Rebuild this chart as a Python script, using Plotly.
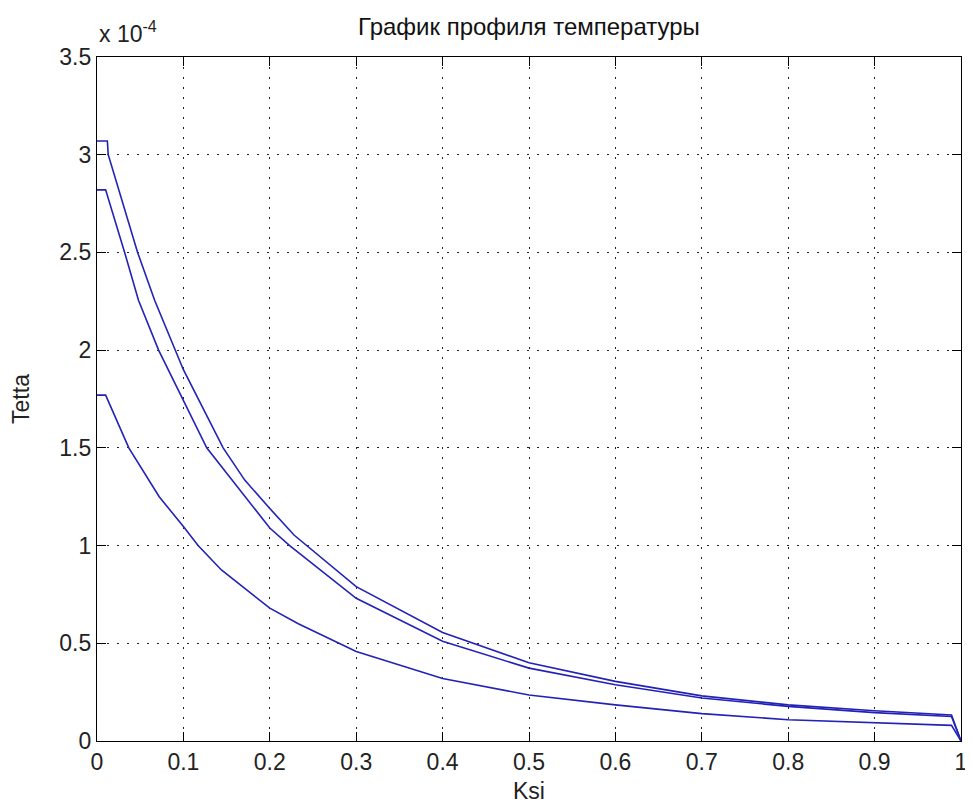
import plotly.graph_objects as go

# Values of Tetta are in units of 1e-4 (axis shows "x 10^-4")
ksi_1 = [0, 0.012, 0.013, 0.047, 0.0667, 0.0904, 0.1, 0.146, 0.171, 0.2, 0.228, 0.3, 0.4, 0.5, 0.6, 0.7, 0.8, 0.9, 0.957, 0.989, 1.0]
tetta_1 = [3.07, 3.07, 3.0, 2.5, 2.255, 2.0, 1.9, 1.5, 1.335, 1.19, 1.054, 0.79, 0.555, 0.40, 0.305, 0.231, 0.185, 0.155, 0.14, 0.133, 0.0]

ksi_2 = [0, 0.010, 0.032, 0.048, 0.0713, 0.1, 0.127, 0.2, 0.223, 0.3, 0.4, 0.5, 0.6, 0.7, 0.8, 0.9, 0.957, 0.989, 1.0]
tetta_2 = [2.82, 2.82, 2.5, 2.255, 2.0, 1.74, 1.5, 1.09, 1.0, 0.73, 0.51, 0.373, 0.288, 0.22, 0.177, 0.145, 0.13, 0.125, 0.0]

ksi_3 = [0, 0.010, 0.0368, 0.048, 0.072, 0.1, 0.117, 0.144, 0.186, 0.2, 0.233, 0.3, 0.4, 0.5, 0.6, 0.7, 0.8, 0.9, 0.957, 0.989, 1.0]
tetta_3 = [1.77, 1.77, 1.5, 1.42, 1.25, 1.097, 1.0, 0.875, 0.731, 0.68, 0.60, 0.458, 0.32, 0.235, 0.185, 0.14, 0.109, 0.095, 0.085, 0.08, 0.0]

x_ticks = [0, 0.1, 0.2, 0.3, 0.4, 0.5, 0.6, 0.7, 0.8, 0.9, 1]
x_tick_labels = ["0", "0.1", "0.2", "0.3", "0.4", "0.5", "0.6", "0.7", "0.8", "0.9", "1"]
y_ticks = [0, 0.5, 1, 1.5, 2, 2.5, 3, 3.5]
y_tick_labels = ["0", "0.5", "1", "1.5", "2", "2.5", "3", "3.5"]

title_text = "График профиля температуры"
x_label = "Ksi"
y_label = "Tetta"

FONT = "Liberation Sans, Arial, sans-serif"
TEXT_COLOR = "#222222"
LINE_COLOR = "#2222b8"

fig = go.Figure()
for xs, ys in [(ksi_1, tetta_1), (ksi_2, tetta_2), (ksi_3, tetta_3)]:
    fig.add_trace(go.Scatter(x=xs, y=ys, mode="lines",
                             line=dict(color=LINE_COLOR, width=1.6),
                             showlegend=False, hoverinfo="x+y", cliponaxis=False))

axis_common = dict(
    showline=True, linecolor="black", linewidth=1.2, mirror="ticks",
    ticks="inside", ticklen=9, tickwidth=1.2, tickcolor="black",
    showgrid=True, gridcolor="#222222", gridwidth=1.4, griddash="2px,8px",
    zeroline=False, automargin=False, ticklabeloverflow="allow",
    tickfont=dict(family=FONT, size=23, color=TEXT_COLOR),
)

fig.update_xaxes(range=[0, 1], tickvals=x_ticks, ticktext=x_tick_labels,
                 title=dict(text=x_label, font=dict(family=FONT, size=23, color=TEXT_COLOR), standoff=14),
                 **axis_common)
fig.update_yaxes(range=[0, 3.5], tickvals=y_ticks, ticktext=y_tick_labels,
                 title=dict(text=y_label, font=dict(family=FONT, size=23, color=TEXT_COLOR), standoff=23),
                 **axis_common)

fig.add_annotation(text="x 10<sup>-4</sup>", xref="paper", yref="paper", x=0, y=1,
                   xanchor="left", yanchor="bottom", yshift=8, showarrow=False,
                   font=dict(family=FONT, size=23, color=TEXT_COLOR))
fig.add_annotation(text=title_text, xref="paper", yref="paper", x=0.5, y=1,
                   xanchor="center", yanchor="bottom", yshift=15, showarrow=False,
                   font=dict(family=FONT, size=24, color="#111111"))

# The page body adds an 8px margin, so the figure is sized to fit inside the
# visible 973x812 window.
fig.update_layout(
    width=957, height=796,
    margin=dict(l=89, r=4, t=49, b=63),
    paper_bgcolor="white", plot_bgcolor="white",
    showlegend=False,
)

fig.write_html("out.html")
